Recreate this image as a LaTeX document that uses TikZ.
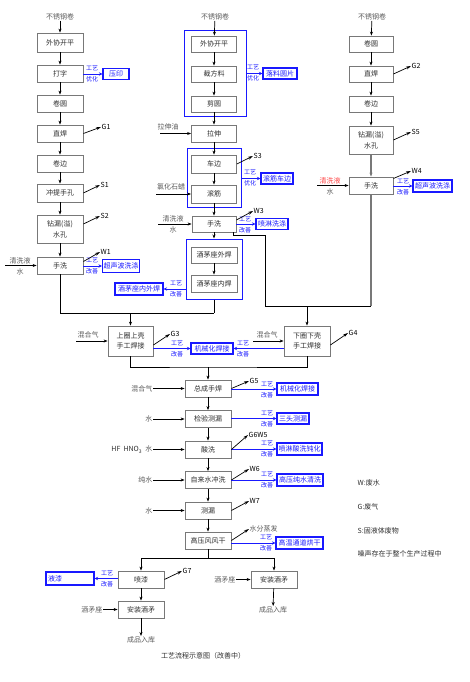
\documentclass[tikz,border=0pt]{standalone}
\usepackage{fontspec}
\setmainfont{Noto Sans CJK SC}
\usetikzlibrary{arrows.meta}
\definecolor{bx}{RGB}{120,120,120}
\definecolor{tx}{RGB}{45,45,45}
\definecolor{gt}{RGB}{90,90,90}
\definecolor{bl}{RGB}{25,25,255}
\definecolor{rd}{RGB}{255,70,70}
\begin{document}
\begin{tikzpicture}[x=1pt,y=-1pt,
  font=\fontsize{7}{8}\selectfont,
  box/.style={draw=bx, line width=0.8pt, text=tx, minimum width=46pt, minimum height=17pt, inner sep=1pt, align=center},
  ibox/.style={draw=bl, line width=1.1pt, text=bl, minimum height=11pt, inner sep=1pt},
  grp/.style={draw=bl, line width=1pt, inner sep=0pt},
  arr/.style={-{Stealth[length=4pt,width=3pt]}, line width=0.7pt},
  ln/.style={line width=0.7pt},
  gln/.style={line width=1.3pt, draw=bx},
  emit/.style={-{Stealth[length=5pt,width=3pt]}, line width=0.7pt},
  iarr/.style={draw=bl, line width=0.9pt, -{Stealth[length=3.5pt,width=3.5pt]}},
  ilab/.style={text=bl, align=center, font=\fontsize{6}{11}\selectfont, inner sep=0pt},
  inlab/.style={text=gt, inner sep=0.5pt, align=center},
  lab/.style={inner sep=0.5pt, anchor=west}]
\useasboundingbox (0,0) rectangle (469,682);

% ---------- left column ----------
\node[inlab] (tL) at (60,17) {不锈钢卷};
\node[box, minimum height=19pt] (L1) at (60,42.5) {外协开平};
\node[box] (L2) at (60,73.5) {打字};
\node[box] (L3) at (60,103.5) {卷圆};
\node[box] (L4) at (60,133.5) {直焊};
\node[box] (L5) at (60,163.5) {卷边};
\node[box, minimum height=18pt] (L6) at (60,193) {冲提手孔};
\node[box, minimum height=28pt] (L7) at (60,229) {钻漏(溢)\\[3pt]水孔};
\node[box] (L8) at (60,265.5) {手洗};

% ---------- middle column ----------
\node[inlab] (tM) at (215,17) {不锈钢卷};
\node[grp, minimum width=62pt, minimum height=86pt] (G1) at (215,74) {};
\node[box, minimum width=45pt, minimum height=16pt] (M1) at (214,44) {外协开平};
\node[box, minimum width=45pt, minimum height=16pt] (M2) at (214,74) {裁方料};
\node[box, minimum width=45pt, minimum height=16pt] (M3) at (214,104) {剪圆};
\node[box, minimum width=45pt] (M4) at (214,133.5) {拉伸};
\node[grp, minimum width=54pt, minimum height=59pt] (G2) at (214,177.5) {};
\node[box, minimum width=45pt, minimum height=18pt] (M5) at (214,164) {车边};
\node[box, minimum width=45pt, minimum height=18pt] (M6) at (214,194) {滚筋};
\node[box, minimum width=44pt, minimum height=16pt] (M7) at (214,224) {手洗};
\node[grp, minimum width=56pt, minimum height=60pt] (G3) at (214,269) {};
\node[box, minimum height=16pt] (M8) at (214,255) {酒茅座外焊};
\node[box] (M9) at (214,283.5) {酒茅座内焊};

% ---------- right column ----------
\node[inlab] (tR) at (372,17) {不锈钢卷};
\node[box, minimum width=44pt, minimum height=16pt] (R1) at (371,44) {卷圆};
\node[box, minimum width=44pt, minimum height=16pt] (R2) at (371,74) {直焊};
\node[box, minimum width=44pt, minimum height=16pt] (R3) at (371,104) {卷边};
\node[box, minimum width=44pt, minimum height=28pt] (R4) at (371,140) {钻漏(溢)\\[3pt]水孔};
\node[box, minimum width=44pt] (R5) at (371,185.5) {手洗};

% ---------- welding ----------
\node[box, minimum width=45pt, minimum height=30pt] (W1) at (130.5,341) {上圈上壳\\[2pt]手工焊接};
\node[box, minimum width=46pt, minimum height=30pt] (W2) at (307,341) {下圈下壳\\[2pt]手工焊接};

% ---------- centre column ----------
\node[box] (C1) at (208,388.5) {总成手焊};
\node[box] (C2) at (208,419) {检验测漏};
\node[box] (C3) at (208,449.5) {酸洗};
\node[box] (C4) at (208,480) {自来水冲洗};
\node[box] (C5) at (208,510.5) {测漏};
\node[box] (C6) at (208,540.5) {高压风风干};

% ---------- bottom ----------
\node[box] (P1) at (141,579.5) {喷漆};
\node[box] (P2) at (141,609.5) {安装酒矛};
\node[box] (P3) at (274,579.5) {安装酒矛};
\node[inlab] (o1) at (141,640) {成品入库};
\node[inlab] (o2) at (273,610) {成品入库};
\node[text=tx] (cap) at (203,656) {工艺流程示意图（改善中）};

% ---------- legend ----------
\node[lab, text=tx] (lg1) at (357,483) {W:废水};
\node[lab, text=tx] (lg2) at (357,507) {G:废气};
\node[lab, text=tx] (lg3) at (357,531) {S:固液体废物};
\node[lab, text=tx] (lg4) at (357,554) {噪声存在于整个生产过程中};

% ---------- improvement boxes ----------
\node[ibox, minimum width=26pt] (I1) at (116,74) {压印};
\node[ibox, minimum width=36pt, minimum height=13pt] (I2) at (121,266) {超声波洗涤};
\node[ibox, minimum width=48pt, minimum height=12pt] (I3) at (139,289) {酒茅座内外焊};
\node[ibox, minimum width=34pt] (I4) at (280,73.5) {落料圆片};
\node[ibox, minimum width=32pt] (I5) at (277,178.5) {滚筋车边};
\node[ibox, minimum width=32pt] (I6) at (272,224) {喷淋洗涤};
\node[ibox, minimum width=39pt, minimum height=12pt] (I7) at (432.5,186) {超声波洗涤};
\node[ibox, minimum width=42pt] (I8) at (212,348.5) {机械化焊接};
\node[ibox, minimum width=41pt, minimum height=12pt] (I9) at (297.5,389) {机械化焊接};
\node[ibox, minimum width=32pt] (I10) at (293,418.5) {三头测漏};
\node[ibox, minimum width=45pt, minimum height=12pt] (I11) at (299.5,449) {喷淋酸洗钝化};
\node[ibox, minimum width=46pt, minimum height=12pt] (I12) at (300,480) {高压纯水清洗};
\node[ibox, minimum width=47pt, minimum height=12pt] (I13) at (299.5,543) {高温通道烘干};
\node[ibox, minimum width=48pt, minimum height=13pt, text width=44pt, align=left] (I14) at (70,578.5) {液漆};

% improvement labels
\node[ilab] (k1) at (92,74) {工艺\\优化};
\node[ilab] (k2) at (92,266) {工艺\\改善};
\node[ilab] (k3) at (176,288.5) {工艺\\改善};
\node[ilab] (k4) at (253,73) {工艺\\优化};
\node[ilab] (k5) at (250,178) {工艺\\优化};
\node[ilab] (k6) at (245,224.5) {工艺\\改善};
\node[ilab] (k7) at (403,186.5) {工艺\\改善};
\node[ilab] (k8) at (177,348.5) {工艺\\改善};
\node[ilab] (k9) at (243,348.5) {工艺\\改善};
\node[ilab] (k10) at (267,389.5) {工艺\\改善};
\node[ilab] (k11) at (267,418.5) {工艺\\改善};
\node[ilab] (k12) at (267,449) {工艺\\改善};
\node[ilab] (k13) at (267,479.5) {工艺\\改善};
\node[ilab] (k14) at (266,543) {工艺\\改善};
\node[ilab] (k15) at (107,579) {工艺\\改善};

% improvement connectors
\draw[iarr] (L2.east |- I1) -- (I1.west);
\draw[iarr] (L8.east |- I2) -- (I2.west);
\draw[iarr] (G3.west |- I3) -- (I3.east);
\draw[iarr] (G1.east |- I4) -- (I4.west);
\draw[iarr] (G2.east |- I5) -- (I5.west);
\draw[iarr] (M7.east |- I6) -- (I6.west);
\draw[iarr] (R5.east |- I7) -- (I7.west);
\draw[iarr] (W1.east |- I8) -- (I8.west);
\draw[iarr] (W2.west |- I8) -- (I8.east);
\draw[iarr] (C1.east |- I9) -- (I9.west);
\draw[iarr] (C2.east |- I10) -- (I10.west);
\draw[iarr] (C3.east |- I11) -- (I11.west);
\draw[iarr] (C4.east |- I12) -- (I12.west);
\draw[iarr] (C6.east |- I13) -- (I13.west);
\draw[iarr] (P1.west |- I14) -- (I14.east);

% ---------- emissions ----------
\node[lab] (e1) at (101,127) {G1};
\node[lab] (e2) at (100,185) {S1};
\node[lab] (e3) at (100,216) {S2};
\node[lab] (e4) at (100,252) {W1};
\node[lab] (e5) at (253,156) {S3};
\node[lab] (e6) at (253,211) {W3};
\node[lab] (e7) at (411,66) {G2};
\node[lab] (e8) at (411,132) {S5};
\node[lab] (e9) at (411,171) {W4};
\node[lab] (e10) at (170,334) {G3};
\node[lab] (e11) at (348,333) {G4};
\node[lab] (e12) at (249,381) {G5};
\node[lab] (e13) at (248,435) {G6W5};
\node[lab] (e14) at (249,469) {W6};
\node[lab] (e15) at (249,501) {W7};
\node[lab, text=gt] (e16) at (249,529) {水分蒸发};
\node[lab] (e17) at (182,571) {G7};
\draw[emit] (L4.east) -- (e1.west);
\draw[emit] (L6.east) -- (e2.west);
\draw[emit] ([yshift=5pt]L7.east) -- (e3.west);
\draw[emit] ([yshift=4pt]L8.east) -- (e4.west);
\draw[emit] (M5.east) -- (e5.west);
\draw[emit] ([yshift=4pt]M7.east) -- (e6.west);
\draw[emit] (R2.east) -- (e7.west);
\draw[emit] (R4.east) -- (e8.west);
\draw[emit] ([yshift=7pt]R5.east) -- (e9.west);
\draw[emit] ([yshift=-4pt]W1.east) -- (e10.west);
\draw[emit] ([yshift=-4pt]W2.east) -- (e11.west);
\draw[emit] (C1.east) -- (e12.west);
\draw[emit] (C3.east) -- (e13.west);
\draw[emit] (C4.east) -- (e14.west);
\draw[emit] (C5.east) -- (e15.west);
\draw[emit] (C6.east) -- (e16.west);
\draw[emit] (P1.east) -- (e17.west);

% ---------- inputs ----------
\node[inlab] (n1) at (20,266) {清洗液\\[3pt]水};
\coordinate (n1s) at (5,265.5);
\draw[arr] (n1s) -- (L8.west);
\node[inlab] (n2) at (168,127) {拉伸油};
\coordinate (n2s) at (160,133.5);
\draw[arr] (n2s) -- (M4.west);
\node[inlab] (n3) at (171,187) {氯化石蜡};
\coordinate (n3s) at (156,194);
\draw[arr] (n3s) -- (M6.west);
\node[inlab] (n4) at (173,224) {清洗液\\[3pt]水};
\coordinate (n4s) at (158,224);
\draw[arr] (n4s) -- (M7.west);
\node[inlab] (n5) at (330,186) {\textcolor{rd}{清洗液}\\[3pt]水};
\coordinate (n5s) at (317,185.5);
\draw[arr] (n5s) -- (R5.west);
\node[inlab] (n6) at (88,335) {混合气};
\coordinate (n6s) at (76,341);
\draw[arr] (n6s) -- (W1.west);
\node[inlab] (n7) at (267,335) {混合气};
\coordinate (n7s) at (253,341);
\draw[arr] (n7s) -- (W2.west);
\node[inlab, anchor=east] (n8) at (153,388.5) {混合气};
\draw[arr] (n8.east) -- (C1.west);
\node[inlab, anchor=east] (n9) at (153,419) {水};
\draw[arr] (n9.east) -- (C2.west);
\node[inlab, anchor=east, text=tx] (n10) at (153,449.5) {HF\ \ HNO\textsubscript{3}\ \ \textcolor{gt}{水}};
\draw[arr] (n10.east) -- (C3.west);
\node[inlab, anchor=east] (n11) at (153,480) {纯水};
\draw[arr] (n11.east) -- (C4.west);
\node[inlab, anchor=east] (n12) at (153,510.5) {水};
\draw[arr] (n12.east) -- (C5.west);
\node[inlab, anchor=east] (n13) at (103,609.5) {酒矛座};
\draw[arr] (n13.east) -- (P2.west);
\node[inlab, anchor=east] (n14) at (236,579.5) {酒矛座};
\draw[arr] (n14.east) -- (P3.west);

% ---------- main flow ----------
\draw[arr] (tL) -- (L1);
\draw[arr] (L1) -- (L2);
\draw[arr] (L2) -- (L3);
\draw[arr] (L3) -- (L4);
\draw[arr] (L4) -- (L5);
\draw[arr] (L5) -- (L6);
\draw[arr] (L6) -- (L7);
\draw[arr] (L7) -- (L8);

\draw[arr] (tM) -- (M1);
\draw[arr] (M1) -- (M2);
\draw[arr] (M2) -- (M3);
\draw[arr] (M3) -- (M4);
\draw[arr] (M4) -- (M5);
\draw[arr] (M5) -- (M6);
\draw[arr] (M6) -- (M7);
\draw[arr] (M7) -- (G3.north);
\draw[arr] (M8) -- (M9);

\draw[arr] (tR) -- (R1);
\draw[arr] (R1) -- (R2);
\draw[arr] (R2) -- (R3);
\draw[arr] (R3) -- (R4);
\draw[gln, -{Stealth[length=4pt,width=3pt]}] (R4) -- (R5);

\coordinate (j1) at (214,313);
\draw[ln] (L8.south) |- (j1);
\draw[ln] (G3.south) -- (j1);
\draw[arr] (W1.north |- j1) -- (W1.north);

\coordinate (j2) at (371,306);
\draw[gln] (R5.south) -- (j2);
\draw[ln] ([xshift=19pt]M7.south) |- (265,235) |- (j2);
\draw[arr] (W2.north |- j2) -- (W2.north);

\coordinate (j3) at (208,367);
\draw[ln] (W1.south) |- (j3) -| (W2.south);
\draw[arr] (j3) -- (C1.north);

\draw[arr] (C1) -- (C2);
\draw[arr] (C2) -- (C3);
\draw[arr] (C3) -- (C4);
\draw[arr] (C4) -- (C5);
\draw[arr] (C5) -- (C6);

\coordinate (j4) at (208,558);
\draw[ln] (C6.south) -- (j4);
\draw[arr] (j4) -| (P1.north);
\draw[arr] (j4) -| (P3.north);
\draw[arr] (P1) -- (P2);
\draw[arr] (P2) -- (o1);
\draw[arr] (P3) -- (o2);
\end{tikzpicture}
\end{document}
